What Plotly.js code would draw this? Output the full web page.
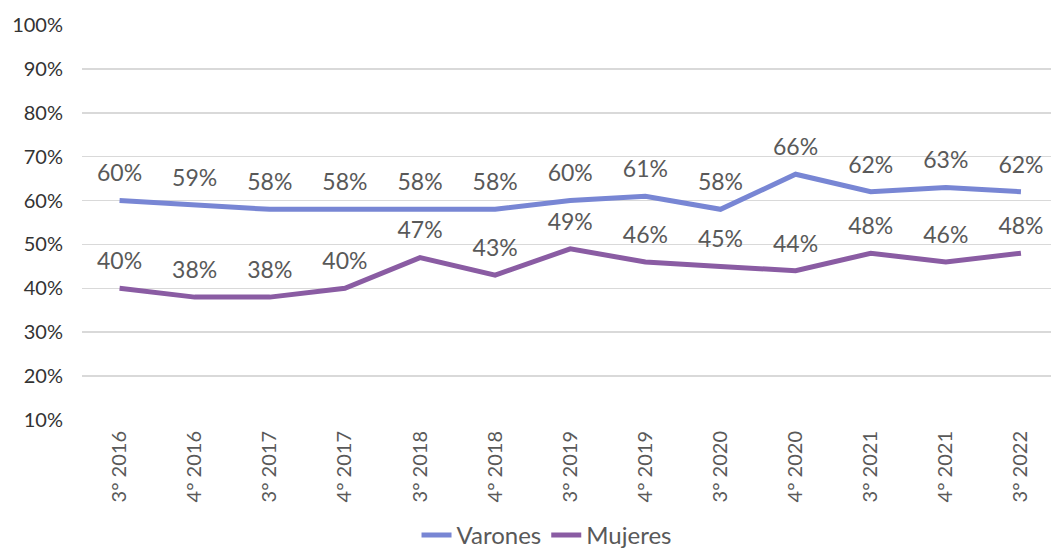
<!DOCTYPE html>
<html>
<head>
<meta charset="utf-8">
<script src="https://cdn.plot.ly/plotly-3.0.1.min.js"></script>
<style>html,body{margin:0;padding:0;background:#fff;}#chart{width:1051px;height:558px;}</style>
</head>
<body>
<div id="chart"></div>
<script>
const categories = ["3° 2016","4° 2016","3° 2017","4° 2017","3° 2018","4° 2018","3° 2019","4° 2019","3° 2020","4° 2020","3° 2021","4° 2021","3° 2022"];
const varones = [60,59,58,58,58,58,60,61,58,66,62,63,62];
const mujeres = [40,38,38,40,47,43,49,46,45,44,48,46,48];
const yTicks = [10,20,30,40,50,60,70,80,90,100];
const seriesNames = ["Varones", "Mujeres"];
const seriesColors = ['#7886d4', '#8a5ca3'];

const FONT = "Lato, 'DejaVu Sans', sans-serif";
function series(name, vals, color) {
  return {
    type: 'scatter', mode: 'lines+markers+text', name: name, showlegend: false,
    x: categories, y: vals,
    text: vals.map(v => v + '%'),
    textposition: 'top center',
    textfont: {family: FONT, size: 23, color: '#595959'},
    line: {color: color, width: 5},
    marker: {size: 20, opacity: 0, color: color},
    hoverinfo: 'skip', cliponaxis: false
  };
}
function legendItem(name, color) {
  return {type: 'scatter', mode: 'lines', name: name, x: [null], y: [null],
          line: {color: color, width: 5}, showlegend: true, hoverinfo: 'skip'};
}
const data = [
  series(seriesNames[0], varones, seriesColors[0]),
  series(seriesNames[1], mujeres, seriesColors[1]),
  legendItem(seriesNames[0], seriesColors[0]),
  legendItem(seriesNames[1], seriesColors[1])
];
const layout = {
  width: 1051, height: 558,
  margin: {l: 82, r: 0, t: 25, b: 138},
  paper_bgcolor: '#fff', plot_bgcolor: '#fff',
  showlegend: true,
  legend: {orientation: 'h', x: 0.52, xanchor: 'center', xref: 'container', yref: 'container', y: 0, yanchor: 'bottom',
           font: {family: FONT, size: 24, color: '#595959'}, itemwidth: 30, tracegroupgap: 0},
  xaxis: {type: 'category', range: [-0.5, 12.4], tickangle: -90, showgrid: false, zeroline: false,
          showline: false, ticks: '', ticklabelstandoff: 6, tickfont: {family: FONT, size: 20, color: '#595959'}, fixedrange: true},
  yaxis: {range: [10, 100], tickvals: yTicks, ticktext: yTicks.map(v => v + '%'), showgrid: true,
          gridcolor: '#d9d9d9', gridwidth: 1.5, zeroline: false, showline: false, ticks: '', ticklabelstandoff: 18,
          tickfont: {family: FONT, size: 20, color: '#333333'}, fixedrange: true}
};
Plotly.newPlot('chart', data, layout, {displayModeBar: false, staticPlot: true});
</script>
</body>
</html>
